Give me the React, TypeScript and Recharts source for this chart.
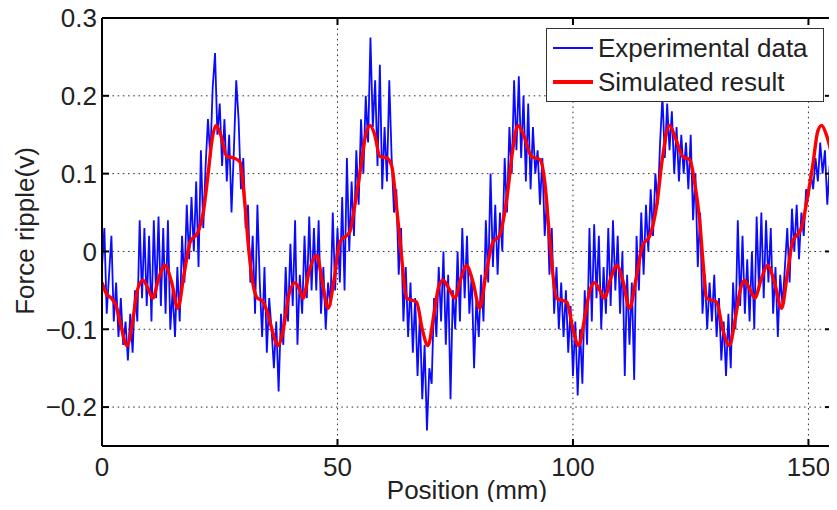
import { LineChart, Line, XAxis, YAxis, CartesianGrid } from "recharts";

// simulated result (smooth), read at the turning points
const RED_X = [
  0, 1, 2, 3, 4, 5.3, 6.5, 7.5, 8.7, 9.8, 10.8, 12, 13.4, 14.8, 16.1, 17.4, 18.7, 20.4,
  21.5, 22.5, 23.4, 24.2, 25.2, 26.5, 28, 29.3, 30.2, 31.2, 32, 33, 34, 35.2, 36.3, 37.3,
  38.5, 39.7, 41, 42, 42.7, 44, 45.6, 46.8, 48, 49.3, 50.5, 52.6, 53.7, 55, 56, 56.9, 57.9,
  59, 60.5, 61.5, 62.5, 63.5, 64.7, 66.8, 68, 69.2, 70.5, 71.5, 72.4, 73.7, 74.9, 76.2,
  77.4, 78.8, 80.2, 81.5, 83, 84.4, 86, 87.2, 88.3, 89.5, 91.2, 93, 94, 95, 96.5, 98.7,
  100, 101.2, 102.5, 103.6, 104.6, 105.7, 106.7, 108, 109.3, 110.7, 112, 113.4, 114.8,
  116.3, 117.8, 119, 120.5, 121.8, 123.3, 124.8, 125.8, 126.9, 127.7, 128.4, 130.5, 131.8,
  133.2, 134.5, 135.5, 136.4, 137.5, 138.6, 140, 141.3, 142.8, 144.3, 145.5, 146.6, 148.5,
  149.8, 150.9, 152, 152.8, 153.8, 155,
];
const RED_Y = [
  -0.04, -0.055, -0.06, -0.07, -0.095, -0.121, -0.09, -0.05, -0.037, -0.048, -0.06, -0.035,
  -0.018, -0.04, -0.073, -0.03, 0.012, 0.025, 0.05, 0.098, 0.145, 0.162, 0.15, 0.122, 0.12,
  0.115, 0.07, 0.0, -0.04, -0.06, -0.063, -0.08, -0.105, -0.121, -0.1, -0.055, -0.04, -0.05,
  -0.06, -0.025, -0.005, -0.04, -0.073, -0.035, 0.012, 0.025, 0.06, 0.11, 0.15, 0.162, 0.15,
  0.122, 0.12, 0.11, 0.06, 0.0, -0.06, -0.065, -0.1, -0.121, -0.08, -0.045, -0.037, -0.048,
  -0.06, -0.035, -0.018, -0.04, -0.073, -0.03, 0.012, 0.02, 0.07, 0.13, 0.162, 0.15, 0.122,
  0.118, 0.09, 0.02, -0.06, -0.065, -0.1, -0.121, -0.085, -0.05, -0.04, -0.05, -0.06, -0.035,
  -0.018, -0.04, -0.073, -0.035, 0.008, 0.02, 0.06, 0.12, 0.162, 0.145, 0.122, 0.118, 0.09,
  0.04, -0.02, -0.06, -0.065, -0.1, -0.121, -0.085, -0.05, -0.037, -0.048, -0.06, -0.035,
  -0.018, -0.04, -0.073, -0.03, 0.012, 0.03, 0.07, 0.11, 0.155, 0.162, 0.15, 0.123,
];

// experimental data, one reading every 0.5 mm
const BLUE_STEP = 0.5;
const BLUE_Y = [
  -0.02, 0.03, -0.08, -0.03, 0.02, -0.09, -0.04, -0.11, -0.06, -0.12,
  -0.09, -0.14, -0.08, -0.13, -0.05, -0.09, 0.04, -0.06, 0.03, -0.07,
  0.02, -0.09, 0.04, -0.06, 0.045, -0.07, 0.03, -0.08, 0.04, -0.1,
  -0.05, -0.11, -0.02, -0.09, 0.02, -0.04, 0.06, -0.01, 0.07, 0.0,
  0.09, -0.02, 0.13, 0.03, 0.11, 0.17, 0.12, 0.21, 0.255, 0.15,
  0.19, 0.11, 0.17, 0.09, 0.15, 0.05, 0.13, 0.22, 0.17, 0.08,
  0.12, 0.03, 0.06, -0.04, 0.02, -0.08, 0.06, -0.04, -0.11, -0.02,
  -0.13, -0.06, -0.1, -0.15, -0.09, -0.18, -0.08, -0.12, -0.02, -0.09,
  0.01, -0.07, 0.04, -0.12, -0.03, -0.08, 0.02, -0.06, 0.045, -0.05,
  0.03, -0.05, 0.04, -0.08, -0.02, -0.1, -0.04, -0.07, 0.05, -0.05,
  0.03, -0.04, 0.07, -0.05, 0.12, 0.0, 0.09, 0.02, 0.13, 0.06,
  0.17, 0.1, 0.2, 0.14, 0.275, 0.16, 0.22, 0.11, 0.24, 0.08,
  0.16, 0.09, 0.22, 0.12, 0.05, 0.08, -0.03, 0.03, -0.09, -0.02,
  -0.11, -0.04, -0.13, -0.06, -0.16, -0.08, -0.19, -0.12, -0.23, -0.15,
  -0.17, -0.06, -0.11, -0.02, -0.09, 0.0, -0.12, -0.03, -0.19, -0.05,
  -0.1, 0.0, -0.09, 0.03, -0.06, 0.02, -0.08, -0.03, -0.15, -0.06,
  -0.11, -0.03, -0.09, 0.04, -0.04, 0.1, -0.02, 0.06, -0.03, 0.05,
  0.0, 0.12, 0.05, 0.16, 0.1, 0.22, 0.13, 0.225, 0.12, 0.2,
  0.09, 0.19, 0.08, 0.16, 0.1, 0.13, 0.06, 0.12, 0.02, 0.07,
  -0.03, 0.03, -0.08, -0.02, -0.1, -0.04, -0.11, -0.05, -0.13, -0.07,
  -0.16, -0.09, -0.185, -0.1, -0.17, -0.05, -0.12, 0.03, -0.09, 0.035,
  -0.06, 0.02, -0.1, -0.02, -0.08, 0.03, -0.07, 0.04, -0.05, 0.02,
  -0.08, 0.0, -0.16, -0.03, -0.12, -0.04, -0.165, 0.02, -0.05, 0.05,
  -0.03, 0.06, 0.0, 0.08, 0.02, 0.1, 0.06, 0.14, 0.2, 0.12,
  0.19, 0.13, 0.18, 0.1, 0.16, 0.09, 0.15, 0.1, 0.14, 0.08,
  0.15, 0.04, 0.1, -0.02, 0.05, -0.08, -0.03, -0.1, -0.04, -0.09,
  -0.03, -0.11, -0.06, -0.14, -0.09, -0.16, -0.08, -0.15, -0.04, -0.1,
  0.04, -0.07, 0.02, -0.08, -0.01, -0.09, 0.0, -0.1, 0.045, -0.05,
  0.05, -0.06, 0.04, -0.04, 0.03, -0.08, -0.02, -0.11, -0.03, -0.07,
  -0.02, 0.03, -0.04, 0.055, 0.0, 0.06, -0.01, 0.05, 0.02, 0.08,
  0.07, 0.1, 0.08, 0.12, 0.09, 0.14, 0.1, 0.13, 0.06, 0.11,
  0.12,
];

const X_TICKS = [0, 50, 100, 150];
const Y_TICKS = [-0.2, -0.1, 0, 0.1, 0.2, 0.3];

const redData = RED_X.map((x, i) => ({ x, v: RED_Y[i] }));
const blueData = BLUE_Y.map((v, i) => ({ x: i * BLUE_STEP, v }));

const FONT = "'Liberation Sans', Arial, Helvetica, sans-serif";
const FS = 26;
const TM = 12; // label distance from axis
const TICK_LEN = 7;

const fmtY = (v: number) => {
  if (v === 0) return "0";
  const s = Math.abs(v).toFixed(1);
  return v < 0 ? "\u2212" + s : s;
};

const BottomTick = (props: any) => {
  const { x, y, payload } = props;
  return (
    <g>
      <line x1={x} x2={x} y1={y - TM} y2={y - TM - TICK_LEN} stroke="#000" strokeWidth={2} />
      <text x={x} y={y} dy="0.71em" textAnchor="middle" fontSize={FS} fontFamily={FONT} fill="#222">
        {payload.value}
      </text>
    </g>
  );
};

const LeftTick = (props: any) => {
  const { x, y, payload } = props;
  return (
    <g>
      <line x1={x + 5} x2={x + 5 + TICK_LEN} y1={y} y2={y} stroke="#000" strokeWidth={2} />
      <text x={x} y={y} dy="0.36em" textAnchor="end" fontSize={FS} fontFamily={FONT} fill="#222">
        {fmtY(payload.value)}
      </text>
    </g>
  );
};

const TopTick = (props: any) => {
  const { x, y } = props;
  return <line x1={x} x2={x} y1={y} y2={y + TICK_LEN} stroke="#000" strokeWidth={2} />;
};

const RightTick = (props: any) => {
  const { x, y } = props;
  return <line x1={x} x2={x - TICK_LEN} y1={y} y2={y} stroke="#000" strokeWidth={2} />;
};

export default function App() {
  return (
    <div style={{ position: "relative", width: 837, height: 510, margin: -8 }}>
      <LineChart width={837} height={510} margin={{ top: 0, right: 0, bottom: 0, left: 0 }}>
        <CartesianGrid stroke="#333" strokeDasharray="1.6 3.6" strokeWidth={1} />
        <XAxis
          type="number"
          dataKey="x"
          domain={[0, 155]}
          ticks={X_TICKS}
          allowDataOverflow
          height={64}
          tickSize={0}
          tickMargin={TM}
          tickLine={false}
          tick={<BottomTick />}
          axisLine={{ stroke: "#000", strokeWidth: 2 }}
          label={{
            content: () => (
              <text x={467} y={490} textAnchor="middle" dominantBaseline="central" fontSize={FS} fontFamily={FONT} fill="#222">
                Position (mm)
              </text>
            ),
          }}
        />
        <XAxis
          xAxisId="top"
          orientation="top"
          type="number"
          dataKey="x"
          domain={[0, 155]}
          ticks={X_TICKS}
          allowDataOverflow
          height={18}
          tickSize={0}
          tickMargin={0}
          tickLine={false}
          tick={<TopTick />}
          axisLine={{ stroke: "#000", strokeWidth: 2 }}
        />
        <YAxis
          type="number"
          domain={[-0.25, 0.3]}
          ticks={Y_TICKS}
          allowDataOverflow
          width={102}
          tickSize={0}
          tickMargin={5}
          tickLine={false}
          tick={<LeftTick />}
          axisLine={{ stroke: "#000", strokeWidth: 2 }}
          label={{
            content: () => (
              <text
                x={25}
                y={231}
                transform="rotate(-90 25 231)"
                textAnchor="middle"
                dominantBaseline="central"
                fontSize={FS}
                fontFamily={FONT}
                fill="#222"
              >
                Force ripple(v)
              </text>
            ),
          }}
        />
        <YAxis
          yAxisId="right"
          orientation="right"
          type="number"
          domain={[-0.25, 0.3]}
          ticks={Y_TICKS}
          allowDataOverflow
          width={5}
          tickSize={0}
          tickMargin={0}
          tickLine={false}
          tick={<RightTick />}
          axisLine={{ stroke: "#000", strokeWidth: 2 }}
        />
        <Line
          data={blueData}
          dataKey="v"
          type="linear"
          stroke="#0a0aff"
          strokeWidth={1.8}
          dot={false}
          isAnimationActive={false}
        />
        <Line
          data={redData}
          dataKey="v"
          type="monotone"
          stroke="#ff0000"
          strokeWidth={3.4}
          dot={false}
          isAnimationActive={false}
        />
      </LineChart>
      <div
        style={{
          position: "absolute",
          left: 546,
          top: 28,
          width: 278,
          height: 74,
          border: "1.5px solid #333",
          background: "#fff",
          fontFamily: FONT,
          fontSize: FS,
          color: "#222",
          boxSizing: "border-box",
          padding: "2px 0 0 6px",
          lineHeight: "34px",
        }}
      >
        <div style={{ display: "flex", alignItems: "center" }}>
          <span style={{ display: "inline-block", width: 40, height: 1.5, background: "#0a0aff", marginRight: 5 }} />
          Experimental data
        </div>
        <div style={{ display: "flex", alignItems: "center" }}>
          <span style={{ display: "inline-block", width: 40, height: 3.5, background: "#ff0000", marginRight: 5 }} />
          Simulated result
        </div>
      </div>
    </div>
  );
}
